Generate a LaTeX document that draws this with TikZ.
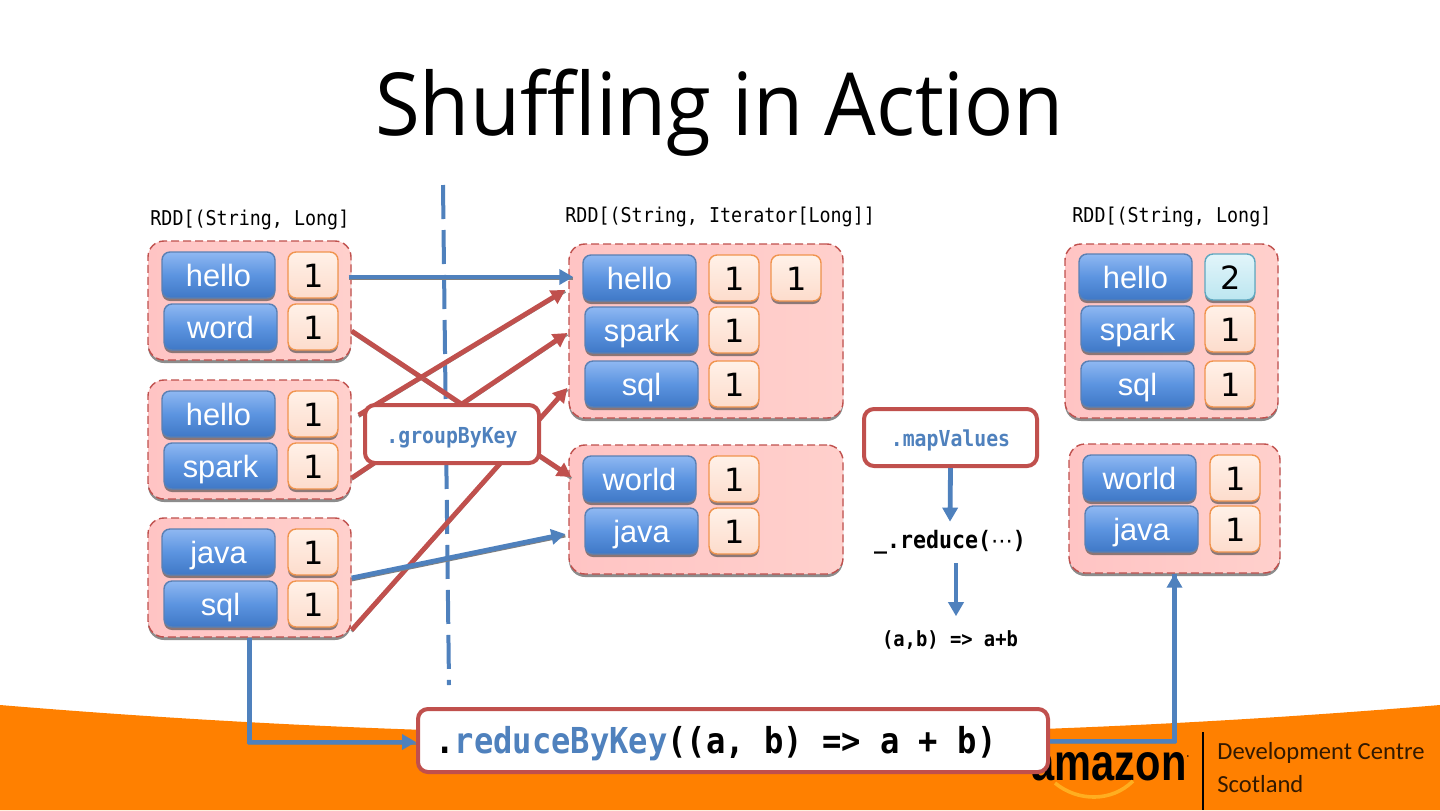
\documentclass[tikz,border=0pt]{standalone}
\usepackage{fontspec}
\setmainfont{Liberation Sans}
\newfontfamily\titlefont[FakeStretch=0.938,Ligatures=NoCommon]{Open Sans}
\newfontfamily\footfont{Carlito}
\newfontfamily\codefont[FakeStretch=0.9]{DejaVu Sans Mono}
\newfontfamily\numfont{DejaVu Sans}
\newfontfamily\amzfont[FakeStretch=0.8]{Liberation Sans Bold}
\usetikzlibrary{arrows.meta,shadows,calc}
\definecolor{bluel}{HTML}{4F81BD}
\definecolor{redl}{HTML}{C0504D}
\definecolor{orangebg}{HTML}{FF8000}
\definecolor{keytop}{HTML}{8FB8F2}
\definecolor{keymid}{HTML}{5C94E0}
\definecolor{keybot}{HTML}{3F78C6}
\definecolor{keyedge}{HTML}{5A80B4}
\definecolor{valtop}{HTML}{FFF1E8}
\definecolor{valbot}{HTML}{FDDCCC}
\definecolor{valedge}{HTML}{F0944E}
\definecolor{sumtop}{HTML}{E2F5FA}
\definecolor{sumbot}{HTML}{BCE6F0}
\definecolor{sumedge}{HTML}{5FA8C0}
\definecolor{grpl}{HTML}{FFC4C4}
\definecolor{grpr}{HTML}{FFD0CC}
\definecolor{amber}{HTML}{FFAE20}
\tikzset{
  x=0.5pt,y=-0.5pt,
  soft/.style={drop shadow={shadow xshift=0pt,shadow yshift=-1.5pt,opacity=.6,fill=black!75}},
  groupbox/.style={soft,rectangle,rounded corners=8pt,draw=redl,dashed,dash pattern=on 4pt off 2pt,line width=.7pt,
    left color=grpl,right color=grpr,minimum width=#1pt},
  keybox/.style={soft,rectangle,rounded corners=4pt,draw=keyedge,line width=.7pt,top color=keytop,bottom color=keybot,middle color=keymid,
    minimum width=56.5pt,minimum height=23pt,inner sep=0pt,text=white,text height=11.5pt,text depth=0pt,font=\fontsize{15.4}{15.4}\selectfont},
  valbox/.style={soft,rectangle,rounded corners=4pt,draw=valedge,line width=.7pt,top color=valtop,bottom color=valbot,
    minimum width=25pt,minimum height=23pt,inner sep=0pt,text=black,text height=12.6pt,text depth=0pt,font=\numfont\fontsize{16}{16}\selectfont\kern1pt},
  sumbox/.style={valbox,draw=sumedge,top color=sumtop,bottom color=sumbot},
  labelbox/.style={rectangle,rounded corners=5pt,draw=redl,line width=2pt,fill=white,inner sep=0pt,text=bluel,text height=9pt,text depth=0pt,font=\codefont\bfseries\fontsize{11}{11}\selectfont},
  codelabel/.style={inner sep=0pt,font=\codefont\fontsize{10.2}{10.2}\selectfont,text=black},
  codebold/.style={inner sep=0pt,font=\codefont\bfseries\fontsize{12}{12}\selectfont,text=black},
  bluearrow/.style={draw=bluel,line width=2.4pt,-{Stealth[length=7pt,width=7.5pt,inset=0pt]},preaction={draw=black!50,line width=1.6pt,-,transform canvas={yshift=-.9pt}}},
  redarrow/.style={draw=redl,line width=2.4pt,-{Stealth[length=7pt,width=7.5pt,inset=0pt]},preaction={draw=black!45,line width=1.4pt,-,transform canvas={yshift=-.7pt}}},
  plainarrow/.style={draw=bluel,line width=2.4pt,-{Stealth[length=7pt,width=7.5pt,inset=0pt]}},
}
\begin{document}
\begin{tikzpicture}
\useasboundingbox (0,0) rectangle (1440,810);
\fill[white] (0,0) rectangle (1440,810);
% footer band
\fill[orangebg] (0,705) .. controls (480,745) and (960,745) .. (1440,705) -- (1440,810) -- (0,810) -- cycle;
\node[inner sep=0pt,anchor=base,font=\amzfont\fontsize{26}{26}\selectfont,text=black] (amz) at (1109,780) {amazon};
\node[inner sep=0pt,font=\fontsize{3}{3}\selectfont,text=black] (amzr) at (1188,757) {\textbullet};
\coordinate (smA) at (1055,783);
\coordinate (smB) at (1133,781);
\draw[draw=amber,line width=1.8pt] (smA) .. controls (1078,802) and (1112,802) .. (smB);
\coordinate (divT) at (1203,732);
\coordinate (divB) at (1203,810);
\draw[black,line width=.7pt] (divT) -- (divB);
\node[anchor=west,inner sep=0pt,font=\footfont\fontsize{12.3}{12.3}\selectfont,text=black!80!orangebg] (dev) at (1217,753) {Development Centre};
\node[anchor=west,inner sep=0pt,font=\footfont\fontsize{12.3}{12.3}\selectfont,text=black!80!orangebg] (sco) at (1217,784) {Scotland};
% title
\node[inner sep=0pt,anchor=base,font=\titlefont\fontsize{43.5}{43.5}\selectfont,text=black] (title) at (719.5,135) {Shuffling in Action};
% rdd labels
\node[codelabel,anchor=west] (rddA) at (150,220) {RDD[(String, Long]};
\node[codelabel,anchor=west] (rddB) at (565,217) {RDD[(String, Iterator[Long]]};
\node[codelabel,anchor=west] (rddC) at (1072,217) {RDD[(String, Long]};
% groups
\node[groupbox=101.5,minimum height=59.5pt] (g1) at (249.5,300.5) {};
\node[groupbox=101.5,minimum height=59.5pt] (g2) at (249.5,439.5) {};
\node[groupbox=101.5,minimum height=59.5pt] (g3) at (249.5,577.5) {};
\node[groupbox=137,minimum height=87pt] (m1) at (706,331) {};
\node[groupbox=137,minimum height=64.5pt] (m2) at (706,509.5) {};
\node[groupbox=106.5,minimum height=87pt] (r1) at (1171.5,331) {};
\node[groupbox=105.5,minimum height=64.5pt] (r2) at (1174.5,508.5) {};
% entries
\node[keybox] (a1) at (218.5,275) {hello};
\node[valbox] (a1v) at (313,275) {1};
\node[keybox] (a2) at (220.5,327) {word};
\node[valbox] (a2v) at (313,327) {1};
\node[keybox] (b1) at (218.5,414) {hello};
\node[valbox] (b1v) at (313,414) {1};
\node[keybox] (b2) at (220.5,466) {spark};
\node[valbox] (b2v) at (313,466) {1};
\node[keybox] (c1) at (218.5,552) {java};
\node[valbox] (c1v) at (313,552) {1};
\node[keybox] (c2) at (220.5,604) {sql};
\node[valbox] (c2v) at (313,604) {1};
\node[keybox] (d1) at (639.5,278) {hello};
\node[valbox] (d1v) at (734,278) {1};
\node[valbox] (d1w) at (796,278) {1};
\node[keybox] (d2) at (641.5,330) {spark};
\node[valbox] (d2v) at (734,330) {1};
\node[keybox] (d3) at (641.5,384) {sql};
\node[valbox] (d3v) at (734,384) {1};
\node[keybox] (e1) at (639.5,479) {world};
\node[valbox] (e1v) at (734,479) {1};
\node[keybox] (e2) at (641.5,531) {java};
\node[valbox] (e2v) at (734,531) {1};
\node[keybox] (f1) at (1135.5,277) {hello};
\node[sumbox] (f1v) at (1230,277) {2};
\node[keybox] (f2) at (1137.5,329) {spark};
\node[valbox] (f2v) at (1230,329) {1};
\node[keybox] (f3) at (1137.5,384) {sql};
\node[valbox] (f3v) at (1230,384) {1};
\node[keybox] (h1) at (1139.5,478) {world};
\node[valbox] (h1v) at (1235,478) {1};
\node[keybox] (h2) at (1141.5,529) {java};
\node[valbox] (h2v) at (1235,529) {1};
% partition line
\coordinate (cutT) at (443,185);
\coordinate (cutB) at (449,685);
\draw[bluel,line width=2pt,dash pattern=on 17pt off 5.5pt] (cutT) -- (cutB);
% red connectors
\draw[redarrow] ([shift={(0,30.5)}]g1.east) -- ([shift={(3,-32.5)}]m2.west);
\draw[redarrow] ([shift={(7,-24.5)}]g2.east) -- ([shift={(-3,-41)}]m1.west);
\draw[redarrow] ([shift={(0,38.5)}]g2.east) -- ([shift={(-1,2)}]m1.west);
\draw[redarrow] ([shift={(0,52.5)}]g3.east) -- ([shift={(-1,57)}]m1.west);
% blue connectors
\draw[bluearrow] ([shift={(-3,-23.5)}]g1.east) -- ([shift={(5,-54)}]m1.west);
\draw[bluearrow] ([shift={(0,.5)}]g3.east) -- ([shift={(-3,24.5)}]m2.west);
% boxes on top
\node[labelbox,minimum width=87pt,minimum height=29pt] (gbk) at (452,434) {.groupByKey};
\node[labelbox,minimum width=86.5pt,minimum height=28.5pt] (mv) at (950.5,437.5) {.mapValues};
\node[codebold] (red) at (950,542) {\_.reduce({\numfont\mdseries\fontsize{10.9}{10.9}\selectfont ⋯})};
\node[codebold,font=\codefont\bfseries\fontsize{10.45}{10.45}\selectfont] (fn) at (950,640) {(a,b) => a+b};
\node[labelbox,minimum width=315pt,minimum height=31.5pt,text=black,anchor=center] (rb) at (733,740.5) {};
\node[inner sep=0pt,anchor=west,font=\codefont\bfseries\fontsize{17.85}{17.85}\selectfont,text=black] (rbt) at (rb.west) [xshift=9.5pt,yshift=-1.5pt] {.\textcolor{bluel}{reduceByKey}((a, b) => a + b)};
\draw[bluearrow] (g3.south) |- ([shift={(0,1.5)}]rb.west);
\draw[bluearrow,-] ([shift={(0,.5)}]rb.east) -| (r2.south);
\draw[plainarrow] ([shift={(6,9)}]red.south) -- ([shift={(6,-14)}]fn.north);
\draw[plainarrow] (mv.south) -- ([shift={(0,-8)}]red.north);
\draw[plainarrow] ([shift={(0,12)}]r2.south) -- (r2.south);
\end{tikzpicture}
\end{document}
